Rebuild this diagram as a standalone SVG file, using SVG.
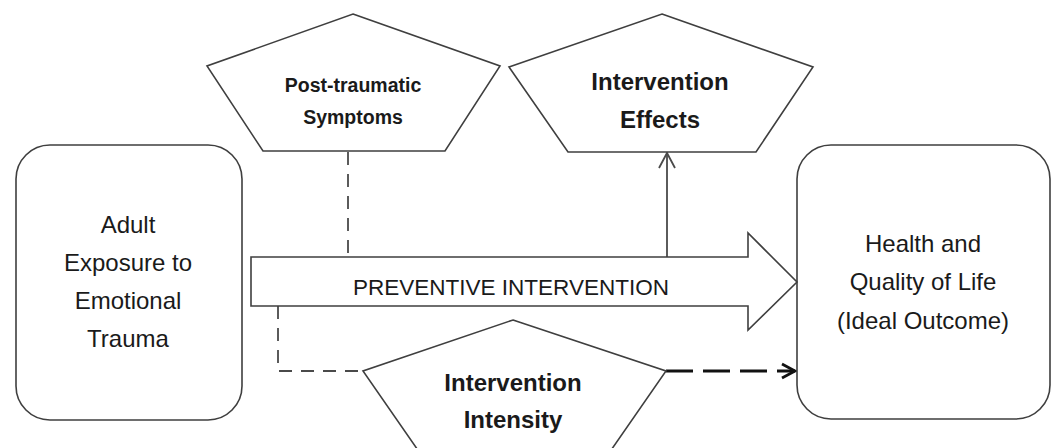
<svg xmlns="http://www.w3.org/2000/svg" width="1051" height="448" viewBox="0 0 1051 448">
  <defs>
    <style>
      .shape { fill: #ffffff; stroke: #3f3f3f; stroke-width: 1.6; stroke-linejoin: miter; }
      .lbl { font-family: "Liberation Sans", Arial, sans-serif; fill: #1a1a1a; text-anchor: middle; }
      .reg { font-size: 24px; }
      .bold { font-weight: bold; }
      .conn { fill: none; stroke: #4a4a4a; stroke-width: 1.8; }
      .dash { stroke-dasharray: 13 9; }
      .dashbold { fill: none; stroke: #111111; stroke-width: 2.8; stroke-dasharray: 27 10; }
    </style>
    <marker id="chev" viewBox="0 0 20 20" refX="18" refY="10" markerWidth="20" markerHeight="20" markerUnits="userSpaceOnUse" orient="auto">
      <path d="M3,2 L18,10 L3,18" fill="none" stroke="#4a4a4a" stroke-width="1.8"/>
    </marker>
    <marker id="chevb" viewBox="0 0 20 20" refX="17" refY="10" markerWidth="20" markerHeight="20" markerUnits="userSpaceOnUse" orient="auto">
      <path d="M4,3 L17,10 L4,17" fill="none" stroke="#111111" stroke-width="2.8"/>
    </marker>
  </defs>
  <rect x="0" y="0" width="1051" height="448" fill="#ffffff"/>

  <g id="connectors">
    <path class="conn dash" d="M348,152 L348,257"/>
    <path class="conn dash" d="M278,306 L278,371 L364,371"/>
    <path class="conn" d="M667,257 L667,153" marker-end="url(#chev)"/>
    <path class="dashbold" d="M666,371 L795,371" marker-end="url(#chevb)"/>
  </g>

  <g id="node-exposure">
    <rect class="shape" x="16" y="145" width="226" height="275" rx="34" ry="34"/>
    <text class="lbl reg" x="128" y="233">Adult</text>
    <text class="lbl reg" x="128" y="271">Exposure to</text>
    <text class="lbl reg" x="128" y="309">Emotional</text>
    <text class="lbl reg" x="128" y="347">Trauma</text>
  </g>

  <g id="node-outcome">
    <rect class="shape" x="797" y="145" width="253" height="274" rx="34" ry="34"/>
    <text class="lbl reg" x="923" y="252">Health and</text>
    <text class="lbl reg" x="923" y="290">Quality of Life</text>
    <text class="lbl reg" x="923" y="329">(Ideal Outcome)</text>
  </g>

  <g id="node-intervention">
    <polygon class="shape" points="251,257 748,257 748,233 797,282 748,330 748,306 251,306"/>
    <text class="lbl" x="511" y="295" font-size="22.5">PREVENTIVE INTERVENTION</text>
  </g>

  <g id="node-symptoms">
    <polygon class="shape" points="353,14 500,66 445,151 263,151 207,66"/>
    <text class="lbl bold" x="353" y="92" font-size="19.5">Post-traumatic</text>
    <text class="lbl bold" x="353" y="124" font-size="19.5">Symptoms</text>
  </g>

  <g id="node-effects">
    <polygon class="shape" points="662,14 813,67 756,152 568,152 509,67"/>
    <text class="lbl bold" x="660" y="90" font-size="24">Intervention</text>
    <text class="lbl bold" x="660" y="128" font-size="24">Effects</text>
  </g>

  <g id="node-intensity">
    <polygon class="shape" points="513,320 666,371 607,456 422,456 363,371"/>
    <text class="lbl bold" x="513" y="391" font-size="24">Intervention</text>
    <text class="lbl bold" x="513" y="428" font-size="24">Intensity</text>
  </g>
</svg>
